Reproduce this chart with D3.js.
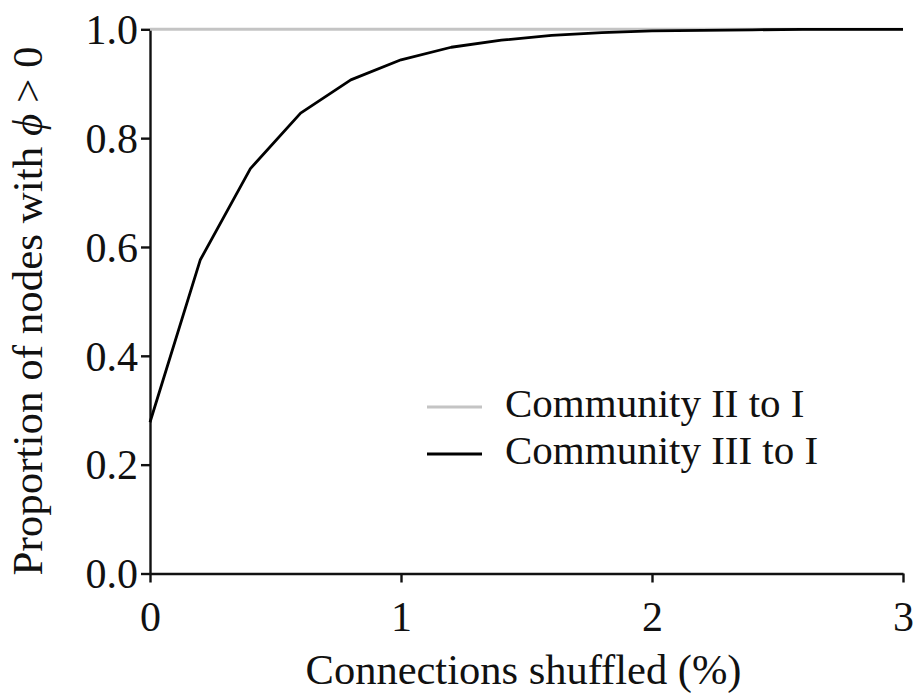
<!DOCTYPE html>
<html>
<head>
<meta charset="utf-8">
<script src="https://cdn.jsdelivr.net/npm/d3@7"></script>
<style>
  html, body { margin: 0; padding: 0; background: #fff; }
  svg { display: block; }
  text { font-family: "Liberation Serif", "Times New Roman", serif; fill: #111; }
</style>
</head>
<body>
<svg id="chart" width="916" height="693"></svg>
<script>
// ---- data ----
const shuffled = [0, 0.2, 0.4, 0.6, 0.8, 1.0, 1.2, 1.4, 1.6, 1.8, 2.0, 2.2, 2.4, 2.6, 2.8, 3.0];
const communityII = [1, 1, 1, 1, 1, 1, 1, 1, 1, 1, 1, 1, 1, 1, 1, 1];
const communityIII = [0.278, 0.576, 0.744, 0.846, 0.907, 0.944, 0.967, 0.980, 0.989, 0.994, 0.997, 0.998, 0.999, 1.0, 1.0, 1.0];
const seriesNames = ["Community II to I", "Community III to I"];
const seriesColors = ["#c4c4c4", "#000000"];
const xTicks = [0, 1, 2, 3];
const yTicks = [0, 0.2, 0.4, 0.6, 0.8, 1.0];
const xLabel = "Connections shuffled (%)";

// ---- layout ----
const svg = d3.select("#chart");
const x = d3.scaleLinear().domain([0, 3]).range([150, 903]);
const y = d3.scaleLinear().domain([0, 1]).range([573.5, 29.3]);

// axes
const xAxis = d3.axisBottom(x).tickValues(xTicks).tickFormat(d3.format("d")).tickSize(9).tickSizeOuter(0).tickPadding(19);
const yAxis = d3.axisLeft(y).tickValues(yTicks).tickFormat(d3.format(".1f")).tickSize(9).tickSizeOuter(0).tickPadding(3);

const gx = svg.append("g").attr("transform", `translate(0,${y(0)})`).call(xAxis);
const gy = svg.append("g").attr("transform", `translate(${x(0)},0)`).call(yAxis);

[gx, gy].forEach(g => {
  g.select(".domain").attr("stroke", "#111").attr("stroke-width", 2.4);
  g.selectAll(".tick line").attr("stroke", "#111").attr("stroke-width", 2.4);
  g.selectAll(".tick text")
    .attr("font-family", "'Liberation Serif', 'Times New Roman', serif")
    .attr("font-size", 42).attr("fill", "#111");
});
gx.selectAll(".tick text").attr("dy", "0.71em");
gy.selectAll(".tick text").attr("dy", "0.34em");

// lines
const line = d3.line().x((d, i) => x(shuffled[i])).y(d => y(d));
const seriesData = [communityII, communityIII];
svg.selectAll("path.series").data(seriesData).join("path")
  .attr("class", "series")
  .attr("d", d => line(d))
  .attr("fill", "none")
  .attr("stroke", (d, i) => seriesColors[i])
  .attr("stroke-width", (d, i) => i === 0 ? 3 : 2.8)
  .attr("stroke-linejoin", "round");

// axis labels
svg.append("text")
  .attr("x", (x(0) + x(3)) / 2 - 3).attr("y", 684)
  .attr("text-anchor", "middle").attr("font-size", 42.5)
  .text(xLabel);

const yl = svg.append("text")
  .attr("transform", `translate(42,${311}) rotate(-90)`)
  .attr("text-anchor", "middle").attr("font-size", 43);
yl.append("tspan").text("Proportion of nodes with ");
yl.append("tspan").attr("font-style", "italic").text("ϕ");
yl.append("tspan").text(" > 0");

// legend
const legend = svg.append("g");
seriesNames.forEach((name, i) => {
  const ly = 407 + i * 47;
  legend.append("line")
    .attr("x1", 427).attr("x2", 482).attr("y1", ly).attr("y2", ly)
    .attr("stroke", seriesColors[i]).attr("stroke-width", 3);
  legend.append("text")
    .attr("x", 505).attr("y", ly + 10).attr("font-size", 41)
    .text(name);
});
</script>
</body>
</html>
